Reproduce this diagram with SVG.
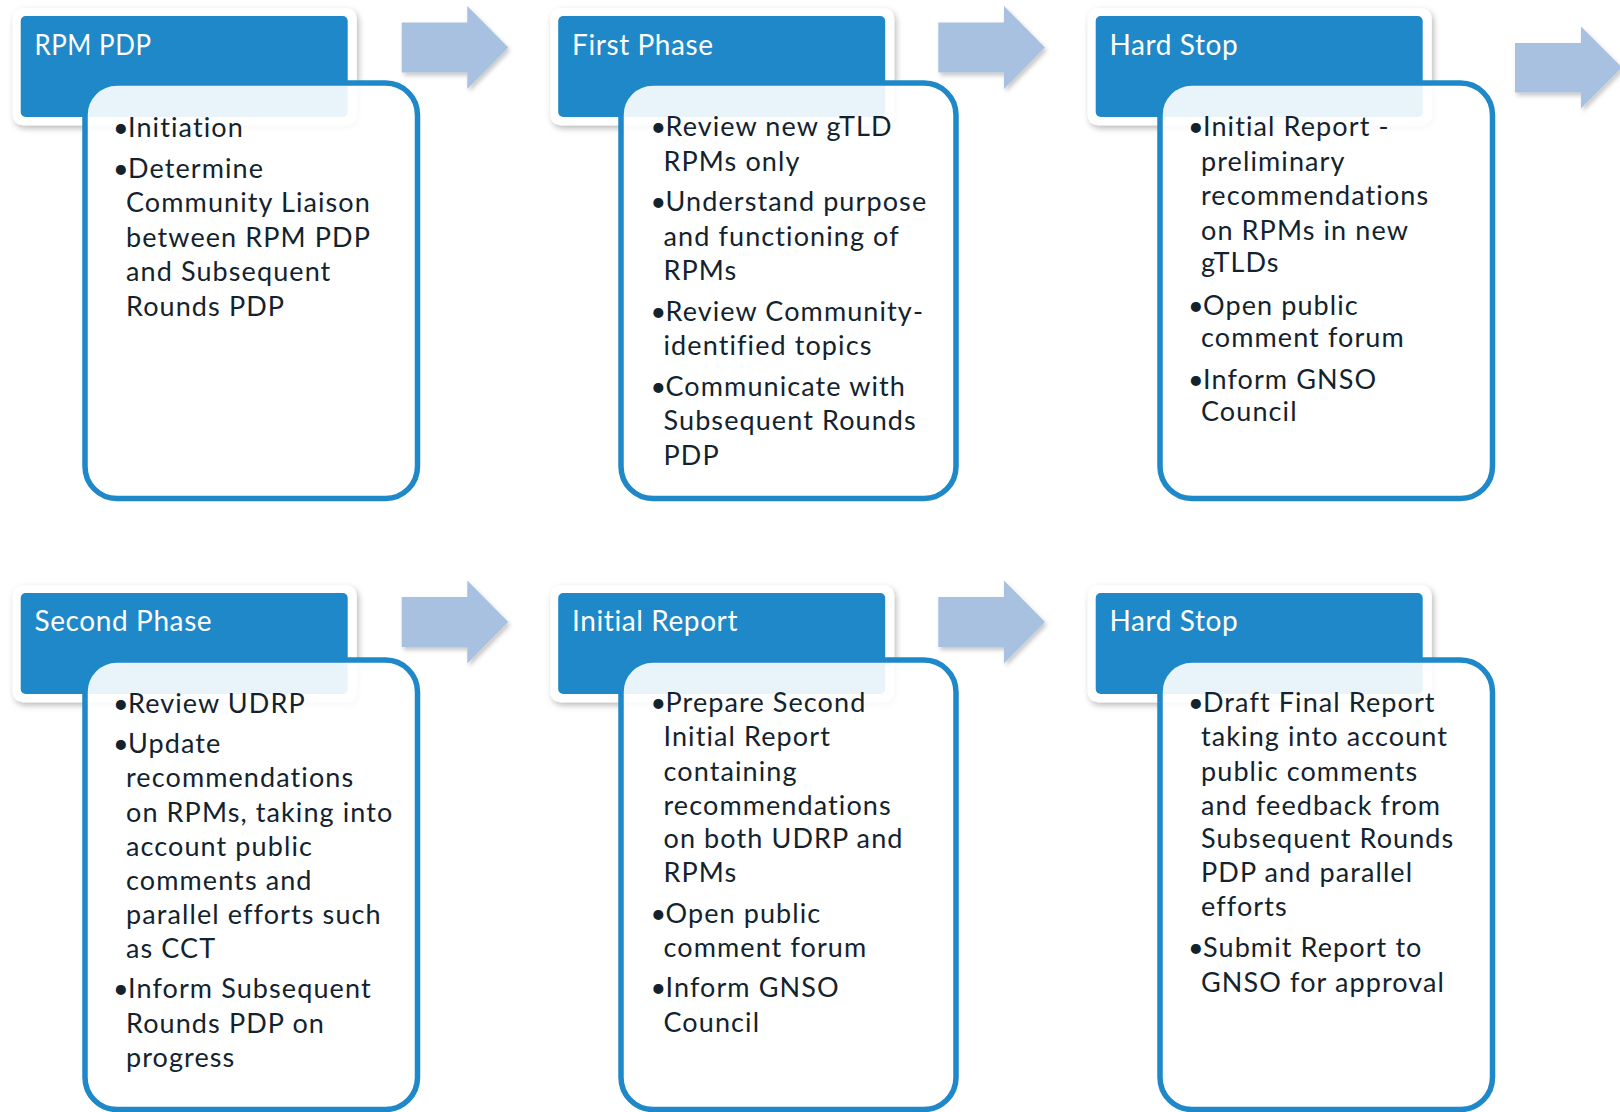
<svg xmlns="http://www.w3.org/2000/svg" width="1620" height="1112" viewBox="0 0 1620 1112">
<defs>
<filter id="sh" x="-10%" y="-10%" width="125%" height="130%">
<feDropShadow dx="2" dy="3" stdDeviation="3" flood-color="#000" flood-opacity="0.28"/>
</filter>
<filter id="ash" x="-10%" y="-10%" width="125%" height="130%">
<feDropShadow dx="2" dy="3" stdDeviation="2" flood-color="#000" flood-opacity="0.22"/>
</filter>
<style>
.frame{fill:#fff;filter:url(#sh)}
.hdr{fill:#1E88C8}
.title{font-family:Lato,"Liberation Sans",sans-serif;font-size:28px;fill:#fff;letter-spacing:0.6px}
.box{fill:#fff;fill-opacity:0.9;stroke:#1E88C8;stroke-width:5.5}
.body{font-family:Lato,"Liberation Sans",sans-serif;font-size:27px;fill:#13232E;letter-spacing:1.1px}
.arrow{fill:#A9C1E1;filter:url(#ash)}
</style>
</defs>
<rect width="1620" height="1112" fill="#fff"/>

<g id="connectors">
<polygon class="arrow" points="401.7,22.5 467.3,22.5 467.3,6 508.3,47.5 467.3,89 467.3,72.5 401.7,72.5"/>
<polygon class="arrow" points="938.3,22.5 1004,22.5 1004,6 1045,47.5 1004,89 1004,72.5 938.3,72.5"/>
<polygon class="arrow" points="1515,43 1581,43 1581,26.5 1622,67.5 1581,108.5 1581,92.5 1515,92.5"/>
<polygon class="arrow" points="401.7,597 467.3,597 467.3,580.5 508.3,622 467.3,663.5 467.3,647 401.7,647"/>
<polygon class="arrow" points="938.3,597 1004,597 1004,580.5 1045,622 1004,663.5 1004,647 938.3,647"/>
</g>

<g id="node-rpm-pdp">
<rect class="frame" x="12.7" y="8.3" width="344" height="117" rx="10"/>
<rect class="hdr" x="20.7" y="16" width="327" height="101" rx="5"/>
<text class="title" x="34.5" y="54.5" textLength="117" lengthAdjust="spacingAndGlyphs">RPM PDP</text>
<rect class="box" x="85" y="83" width="332.5" height="415.5" rx="32"/>
<text class="body">
<tspan x="113" y="137">•</tspan><tspan x="128" y="137">Initiation</tspan>
<tspan x="113" y="177.5">•</tspan><tspan x="128" y="177.5">Determine</tspan>
<tspan x="126" y="212">Community Liaison</tspan>
<tspan x="126" y="246.5">between RPM PDP</tspan>
<tspan x="126" y="281">and Subsequent</tspan>
<tspan x="126" y="315.5">Rounds PDP</tspan>
</text>
</g>

<g id="node-first-phase" transform="translate(537.5,0)">
<rect class="frame" x="12.7" y="8.3" width="344" height="117" rx="10"/>
<rect class="hdr" x="20.7" y="16" width="327" height="101" rx="5"/>
<text class="title" x="34.5" y="54.5">First Phase</text>
<rect class="box" x="83.5" y="83" width="335" height="415.5" rx="32"/>
<text class="body">
<tspan x="113" y="136">•</tspan><tspan x="128" y="136">Review new gTLD</tspan>
<tspan x="126" y="170.5">RPMs only</tspan>
<tspan x="113" y="211">•</tspan><tspan x="128" y="211">Understand purpose</tspan>
<tspan x="126" y="245.5">and functioning of</tspan>
<tspan x="126" y="280">RPMs</tspan>
<tspan x="113" y="320.5">•</tspan><tspan x="128" y="320.5">Review Community-</tspan>
<tspan x="126" y="355">identified topics</tspan>
<tspan x="113" y="395.5">•</tspan><tspan x="128" y="395.5">Communicate with</tspan>
<tspan x="126" y="430">Subsequent Rounds</tspan>
<tspan x="126" y="464.5">PDP</tspan>
</text>
</g>

<g id="node-hard-stop-1" transform="translate(1075,0)">
<rect class="frame" x="12.7" y="8.3" width="344" height="117" rx="10"/>
<rect class="hdr" x="20.7" y="16" width="327" height="101" rx="5"/>
<text class="title" x="34.5" y="54.5">Hard Stop</text>
<rect class="box" x="85" y="83" width="332.5" height="415.5" rx="32"/>
<text class="body">
<tspan x="113" y="136">•</tspan><tspan x="128" y="136">Initial Report -</tspan>
<tspan x="126" y="171">preliminary</tspan>
<tspan x="126" y="205">recommendations</tspan>
<tspan x="126" y="239.5">on RPMs in new</tspan>
<tspan x="126" y="271.5">gTLDs</tspan>
<tspan x="113" y="314.5">•</tspan><tspan x="128" y="314.5">Open public</tspan>
<tspan x="126" y="347">comment forum</tspan>
<tspan x="113" y="389">•</tspan><tspan x="128" y="389">Inform GNSO</tspan>
<tspan x="126" y="421">Council</tspan>
</text>
</g>

<g id="node-second-phase" transform="translate(0,577)">
<rect class="frame" x="12.7" y="8.3" width="344" height="117" rx="10"/>
<rect class="hdr" x="20.7" y="16" width="327" height="101" rx="5"/>
<text class="title" x="34.5" y="54">Second Phase</text>
<rect class="box" x="85" y="83" width="332.5" height="449.5" rx="32"/>
<text class="body">
<tspan x="113" y="135.5">•</tspan><tspan x="128" y="135.5">Review UDRP</tspan>
<tspan x="113" y="176">•</tspan><tspan x="128" y="176">Update</tspan>
<tspan x="126" y="210">recommendations</tspan>
<tspan x="126" y="245">on RPMs, taking into</tspan>
<tspan x="126" y="279">account public</tspan>
<tspan x="126" y="313">comments and</tspan>
<tspan x="126" y="346.5">parallel efforts such</tspan>
<tspan x="126" y="380.5">as CCT</tspan>
<tspan x="113" y="421">•</tspan><tspan x="128" y="421">Inform Subsequent</tspan>
<tspan x="126" y="456">Rounds PDP on</tspan>
<tspan x="126" y="490">progress</tspan>
</text>
</g>

<g id="node-initial-report" transform="translate(537.5,577)">
<rect class="frame" x="12.7" y="8.3" width="344" height="117" rx="10"/>
<rect class="hdr" x="20.7" y="16" width="327" height="101" rx="5"/>
<text class="title" x="34.5" y="54">Initial Report</text>
<rect class="box" x="83.5" y="83" width="335" height="449.5" rx="32"/>
<text class="body">
<tspan x="113" y="134.5">•</tspan><tspan x="128" y="134.5">Prepare Second</tspan>
<tspan x="126" y="168.5">Initial Report</tspan>
<tspan x="126" y="204">containing</tspan>
<tspan x="126" y="238">recommendations</tspan>
<tspan x="126" y="271">on both UDRP and</tspan>
<tspan x="126" y="305">RPMs</tspan>
<tspan x="113" y="345.5">•</tspan><tspan x="128" y="345.5">Open public</tspan>
<tspan x="126" y="379.5">comment forum</tspan>
<tspan x="113" y="419.5">•</tspan><tspan x="128" y="419.5">Inform GNSO</tspan>
<tspan x="126" y="455">Council</tspan>
</text>
</g>

<g id="node-hard-stop-2" transform="translate(1075,577)">
<rect class="frame" x="12.7" y="8.3" width="344" height="117" rx="10"/>
<rect class="hdr" x="20.7" y="16" width="327" height="101" rx="5"/>
<text class="title" x="34.5" y="54">Hard Stop</text>
<rect class="box" x="85" y="83" width="332.5" height="449.5" rx="32"/>
<text class="body">
<tspan x="113" y="134.5">•</tspan><tspan x="128" y="134.5">Draft Final Report</tspan>
<tspan x="126" y="168.5">taking into account</tspan>
<tspan x="126" y="204">public comments</tspan>
<tspan x="126" y="238">and feedback from</tspan>
<tspan x="126" y="271">Subsequent Rounds</tspan>
<tspan x="126" y="305">PDP and parallel</tspan>
<tspan x="126" y="339">efforts</tspan>
<tspan x="113" y="379.5">•</tspan><tspan x="128" y="379.5">Submit Report to</tspan>
<tspan x="126" y="414.5">GNSO for approval</tspan>
</text>
</g>
</svg>
